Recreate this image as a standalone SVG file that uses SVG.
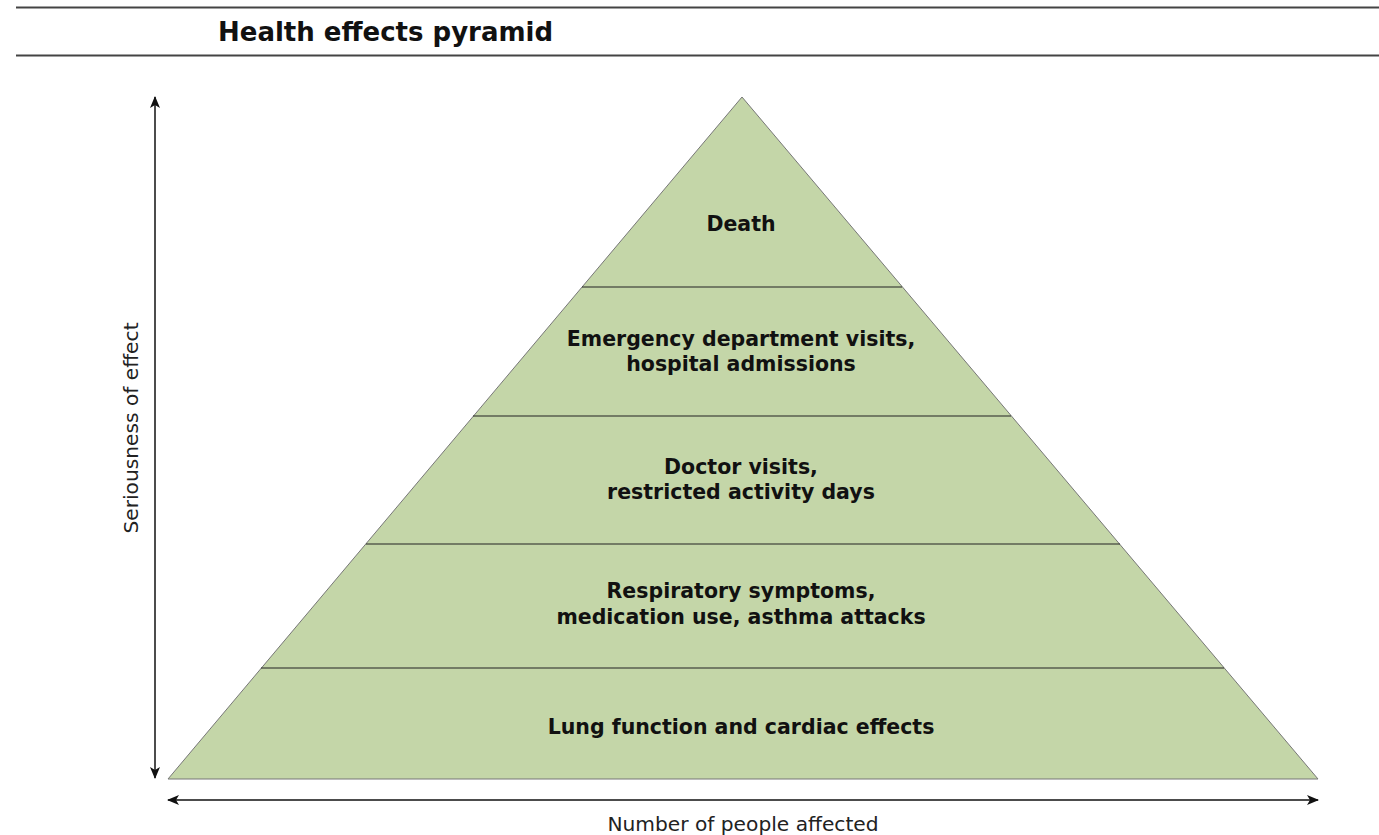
<svg xmlns="http://www.w3.org/2000/svg" width="1379" height="835" viewBox="0 0 1379 835">
  <style>
    .rule { stroke: #444; stroke-width: 2; }
    .tier { fill: #c4d6a8; stroke: #777; stroke-width: 1; }
    .sep { stroke: #222; stroke-width: 1.2; }
    .axis { stroke: #111; stroke-width: 1.5; fill: none; }
    .lbl { font-family: "DejaVu Sans", Verdana, sans-serif; font-weight: bold; font-size: 20.5px; fill: #111; text-anchor: middle; }
    .axlbl { font-family: "DejaVu Sans", Verdana, sans-serif; font-size: 20.2px; fill: #222; text-anchor: middle; }
    .title { font-family: "DejaVu Sans", Verdana, sans-serif; font-weight: bold; font-size: 26px; fill: #111; }
  </style>
  <defs>
    <marker id="arrow" viewBox="0 0 12 10" refX="11" refY="5" markerWidth="12" markerHeight="10" markerUnits="userSpaceOnUse" orient="auto-start-reverse">
      <path d="M0,0 L12,5 L0,10 L3,5 Z" fill="#111"/>
    </marker>
  </defs>

  <rect width="1379" height="835" fill="#fff"/>

  <!-- header -->
  <g id="header">
    <line class="rule" x1="16" y1="7.5" x2="1379" y2="7.5"/>
    <text class="title" x="218" y="41">Health effects pyramid</text>
    <line class="rule" x1="16" y1="55.5" x2="1379" y2="55.5"/>
  </g>

  <!-- pyramid body -->
  <g id="pyramid">
    <polygon class="tier" points="742,97 1318,779 168,779"/>
  </g>

  <!-- tier dividers -->
  <g id="dividers">
    <line class="sep" x1="582" y1="287" x2="902" y2="287"/>
    <line class="sep" x1="473" y1="416" x2="1011" y2="416"/>
    <line class="sep" x1="366" y1="544" x2="1120" y2="544"/>
    <line class="sep" x1="261" y1="668" x2="1224" y2="668"/>
  </g>

  <g id="tier-death">
    <text class="lbl" x="741" y="231">Death</text>
  </g>
  <g id="tier-emergency">
    <text class="lbl" x="741" y="346">Emergency department visits,</text>
    <text class="lbl" x="741" y="371">hospital admissions</text>
  </g>
  <g id="tier-doctor">
    <text class="lbl" x="741" y="474">Doctor visits,</text>
    <text class="lbl" x="741" y="499">restricted activity days</text>
  </g>
  <g id="tier-respiratory">
    <text class="lbl" x="741" y="598">Respiratory symptoms,</text>
    <text class="lbl" x="741" y="624">medication use, asthma attacks</text>
  </g>
  <g id="tier-lung">
    <text class="lbl" x="741" y="734">Lung function and cardiac effects</text>
  </g>

  <!-- axes -->
  <g id="connectors">
    <line class="axis" x1="155" y1="97" x2="155" y2="778" marker-start="url(#arrow)" marker-end="url(#arrow)"/>
    <line class="axis" x1="168" y1="800" x2="1318" y2="800" marker-start="url(#arrow)" marker-end="url(#arrow)"/>
  </g>

  <g id="axis-labels">
    <text class="axlbl" transform="translate(138,428) rotate(-90)">Seriousness of effect</text>
    <text class="axlbl" x="743" y="831">Number of people affected</text>
  </g>
</svg>
